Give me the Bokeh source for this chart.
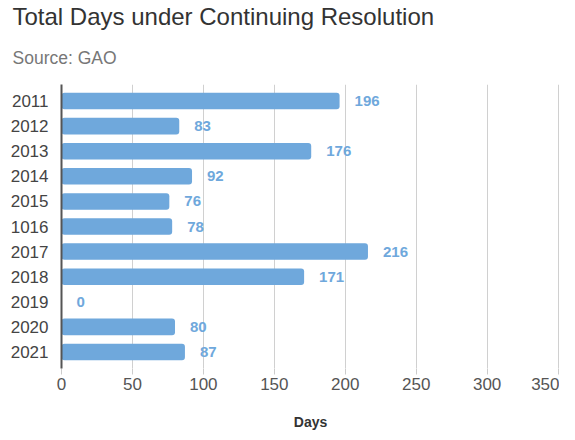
from bokeh.plotting import figure
from bokeh.models import ColumnDataSource, FactorRange, LabelSet, Title, FixedTicker
from bokeh.core.properties import value
from bokeh.embed import file_html
from bokeh.resources import INLINE

years = ["2011", "2012", "2013", "2014", "2015", "1016", "2017", "2018", "2019", "2020", "2021"]
days = [196, 83, 176, 92, 76, 78, 216, 171, 0, 80, 87]
x_ticks = [0, 50, 100, 150, 200, 250, 300, 350]

title_text = "Total Days under Continuing Resolution"
subtitle_text = "Source: GAO"
x_label = "Days"

BAR = "#6fa8dc"
FONT = "Liberation Sans"

src = ColumnDataSource(dict(year=years, days=days, lbl=[str(d) for d in days]))

p = figure(
    width=559, height=432,
    y_range=FactorRange(*list(reversed(years)), range_padding=0.029),
    x_range=(0, 351),
    output_backend="svg", toolbar_location=None, title=None,
    min_border_left=61, min_border_right=0, min_border_bottom=0,
)
p.outline_line_color = None

p.add_layout(Title(text=subtitle_text, text_font_size="17.5px", text_font_style="normal",
                   text_color="#777777", text_font=FONT, offset=-49, standoff=33), "above")
p.add_layout(Title(text=title_text, text_font_size="24px", text_font_style="normal",
                   text_color="#333333", text_font=FONT, offset=-49, standoff=0), "above")

p.hbar(y="year", right="days", left=0, height=0.66, source=src, color=BAR,
       line_color=None, border_radius=3)

labels = LabelSet(x="days", y="year", text="lbl", source=src, x_offset=15,
                  text_baseline="middle", text_font_size="15px", text_font_style="bold",
                  text_color=BAR, text_font=value(FONT))
p.add_layout(labels)

p.ygrid.grid_line_color = None
p.xgrid.grid_line_color = "#d0d0d0"
p.xgrid.ticker = FixedTicker(ticks=x_ticks)

p.xaxis.ticker = FixedTicker(ticks=x_ticks)
p.xaxis.axis_line_color = None
p.xaxis.major_tick_line_color = "#cccccc"
p.xaxis.major_tick_out = 6
p.xaxis.major_tick_in = 0
p.xaxis.minor_tick_line_color = None
p.xaxis.major_label_text_font_size = "17px"
p.xaxis.major_label_text_color = "#555555"
p.xaxis.major_label_text_font = FONT
p.xaxis.major_label_standoff = 3
p.xaxis.axis_label = x_label
p.xaxis.axis_label_text_font_size = "14px"
p.xaxis.axis_label_text_font_style = "bold"
p.xaxis.axis_label_text_color = "#333333"
p.xaxis.axis_label_text_font = FONT
p.xaxis.axis_label_standoff = 21

p.yaxis.axis_line_color = "#555555"
p.yaxis.axis_line_width = 2
p.yaxis.major_tick_line_color = None
p.yaxis.minor_tick_line_color = None
p.yaxis.major_label_text_font_size = "17px"
p.yaxis.major_label_text_color = "#444444"
p.yaxis.major_label_text_font = FONT
p.yaxis.major_label_standoff = 7

open("out.html", "w").write(file_html(p, INLINE))
